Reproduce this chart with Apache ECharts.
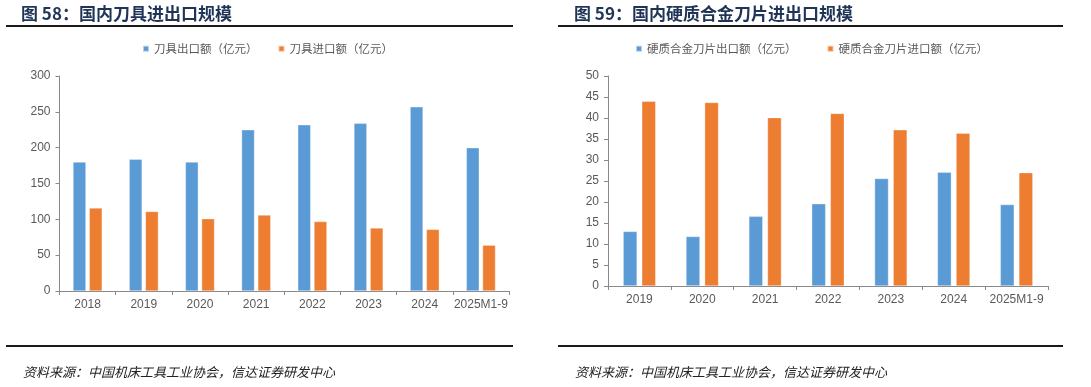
<!DOCTYPE html>
<html><head><meta charset="utf-8">
<script src="https://cdn.jsdelivr.net/npm/echarts@6/dist/echarts.min.js"></script>
<style>html,body{margin:0;padding:0;background:#fff}#c{width:1091px;height:387px}</style>
</head><body><div id="c"></div>
<script>
const catsL = ['2018','2019','2020','2021','2022','2023','2024','2025M1-9'];
const exportL = [180,184,180,225,232,234,257,200];
const importL = [116,111,101,106,97,88,86,64];
const nameExpL = '刀具出口额（亿元）';
const nameImpL = '刀具进口额（亿元）';
const ticksL = {min:0, max:300, interval:50};

const catsR = ['2019','2020','2021','2022','2023','2024','2025M1-9'];
const exportR = [13.0,11.8,16.6,19.6,25.6,27.1,19.4];
const importR = [44.0,43.7,40.1,41.1,37.2,36.4,27.0];
const nameExpR = '硬质合金刀片出口额（亿元）';
const nameImpR = '硬质合金刀片进口额（亿元）';
const ticksR = {min:0, max:50, interval:5};

const titleL = '图 58：国内刀具进出口规模';
const titleR = '图 59：国内硬质合金刀片进出口规模';
const source = '资料来源：中国机床工具工业协会，信达证券研发中心';

const BLUE = '#5B9BD5', ORANGE = '#ED7D31';
const FONT = '"Noto Sans CJK SC", "Liberation Sans", Arial, sans-serif';
const axisLineStyle = {color:'#898989', width:1};
const labelStyle = {color:'#595959', fontSize:12, fontFamily:'"Liberation Sans", Arial, sans-serif'};

function xAxis(gi, cats){
  return {type:'category', gridIndex:gi, data:cats, boundaryGap:true,
    axisLine:{lineStyle:axisLineStyle}, axisTick:{show:true, length:4, lineStyle:axisLineStyle, alignWithLabel:false},
    axisLabel:Object.assign({margin:8, interval:0}, labelStyle)};
}
function yAxis(gi, t){
  return Object.assign({type:'value', gridIndex:gi,
    axisLine:{show:true, lineStyle:axisLineStyle}, axisTick:{show:true, length:4, lineStyle:axisLineStyle},
    splitLine:{show:false}, axisLabel:Object.assign({margin:9}, labelStyle)}, t);
}
function bar(name, data, color, gi, gap){
  return {type:'bar', name, data, xAxisIndex:gi, yAxisIndex:gi, barWidth: gi===0?13:14, barGap:gap,
    itemStyle:{color, borderColor:'rgba(255,255,255,0.55)', borderWidth:0.6}, animation:false};
}

const chart = echarts.init(document.getElementById('c'), null, {renderer:'canvas'});
chart.setOption({
  animation:false,
  textStyle:{fontFamily:FONT},
  title:[
    {text:titleL, left:16, top:0, textStyle:{fontSize:17, fontWeight:'bold', color:'#1f3457', fontFamily:FONT}},
    {text:titleR, left:569, top:0, textStyle:{fontSize:17, fontWeight:'bold', color:'#1f3457', fontFamily:FONT}},
    {text:source, left:18, top:361, textStyle:{fontSize:13, fontWeight:'normal', fontStyle:'italic', color:'#222', fontFamily:FONT}},
    {text:source, left:570, top:361, textStyle:{fontSize:13, fontWeight:'normal', fontStyle:'italic', color:'#222', fontFamily:FONT}}
  ],
  legend:[
    {data:[nameExpL, nameImpL], left:137, top:38, itemWidth:6, itemHeight:6, itemGap:20, icon:'rect',
      textStyle:{fontSize:11.5, color:'#595959', fontFamily:FONT}},
    {data:[nameExpR, nameImpR], left:630, top:38, itemWidth:6, itemHeight:6, itemGap:30, icon:'rect',
      textStyle:{fontSize:11.5, color:'#595959', fontFamily:FONT}}
  ],
  grid:[
    {left:59.5, top:76, width:449.5, height:215, containLabel:false},
    {left:608, top:76, width:440, height:210, containLabel:false}
  ],
  xAxis:[xAxis(0, catsL), xAxis(1, catsR)],
  yAxis:[yAxis(0, ticksL), yAxis(1, ticksR)],
  series:[
    bar(nameExpL, exportL, BLUE, 0, '25%'),
    bar(nameImpL, importL, ORANGE, 0, '25%'),
    bar(nameExpR, exportR, BLUE, 1, '33%'),
    bar(nameImpR, importR, ORANGE, 1, '33%')
  ],
  graphic:[
    {type:'line', shape:{x1:6, y1:26, x2:513, y2:26}, style:{stroke:'#1a1a1a', lineWidth:2}},
    {type:'line', shape:{x1:558, y1:26, x2:1063, y2:26}, style:{stroke:'#1a1a1a', lineWidth:2}},
    {type:'line', shape:{x1:6, y1:346, x2:513, y2:346}, style:{stroke:'#1a1a1a', lineWidth:2}},
    {type:'line', shape:{x1:558, y1:346, x2:1063, y2:346}, style:{stroke:'#1a1a1a', lineWidth:2}}
  ]
});
</script></body></html>
